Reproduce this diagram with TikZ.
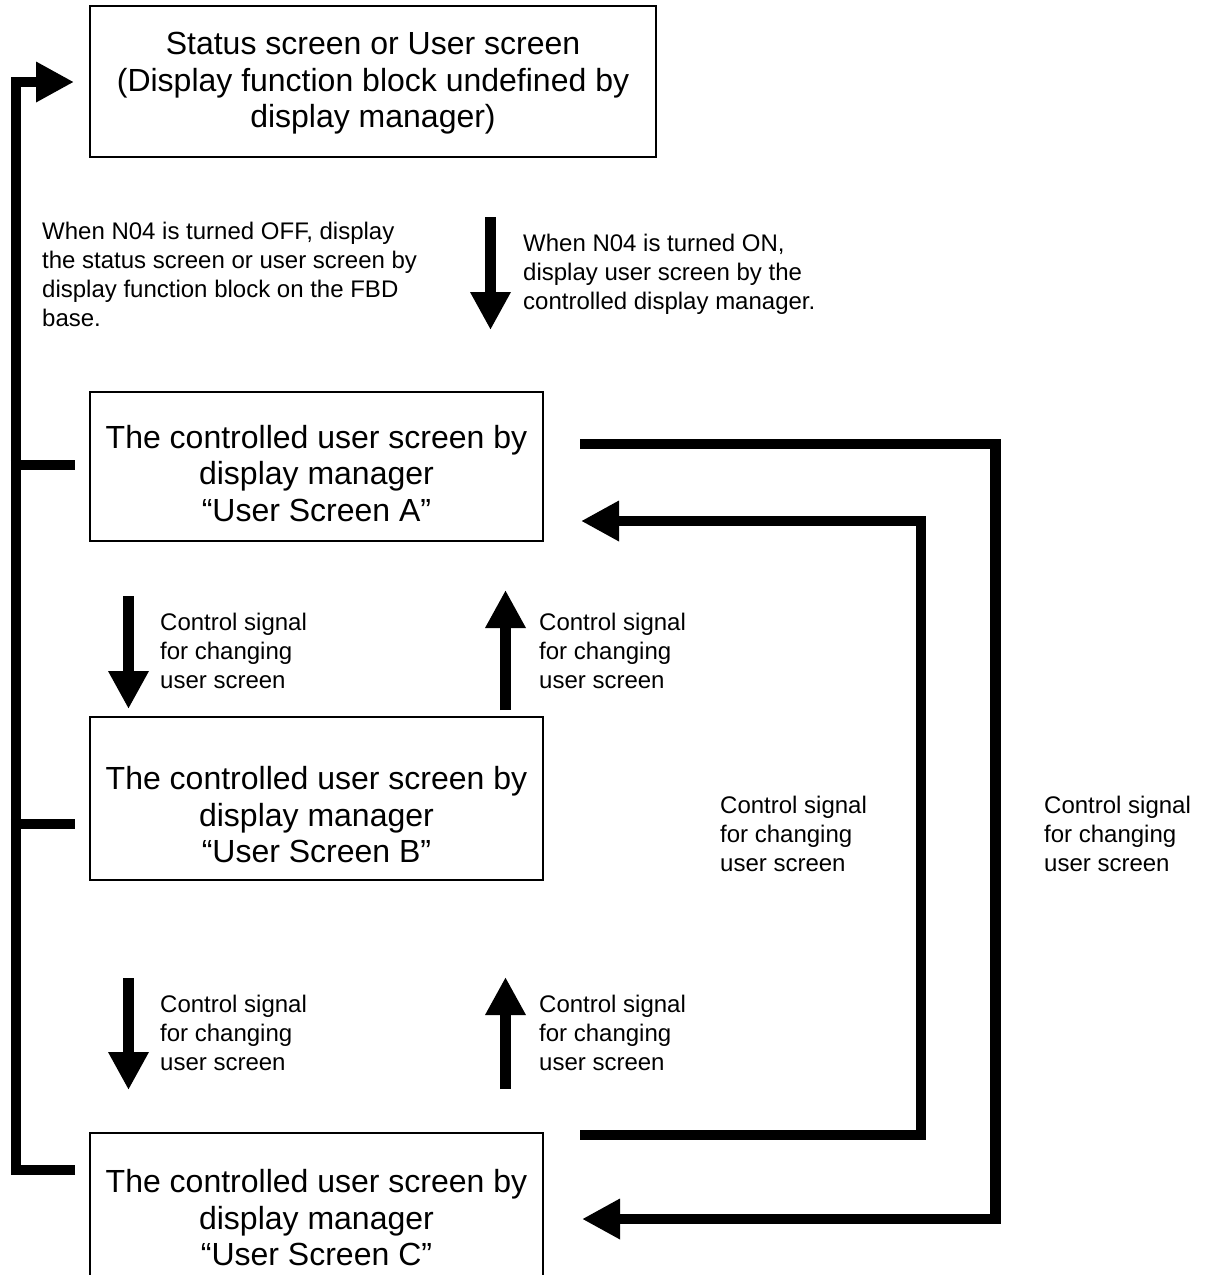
\documentclass[tikz,border=0pt]{standalone}
\usepackage{fontspec}
\setmainfont{Liberation Sans}
\usetikzlibrary{arrows.meta}
\begin{document}
\begin{tikzpicture}[x=1pt,y=-1pt,
  box/.style={draw,line width=1.6pt,inner sep=0pt},
  boxtxt/.style={inner sep=0pt,align=center,
    font=\fontsize{32}{36.5}\selectfont},
  lbl/.style={inner sep=0pt,anchor=north west,align=left,
    font=\fontsize{24}{29}\selectfont},
  bar/.style={line width=10.5pt,line join=miter},
  bigarrow/.style={line width=10.5pt,line join=miter,
    -{Triangle[width=38pt,length=38pt]}}
]
\useasboundingbox (0,0) rectangle (1207,1275);

% boxes
\node[box,minimum width=566pt,minimum height=151pt] (T) at (373,81.5) {};
\node[boxtxt] (Ttxt) at (373,83.5)
  {Status screen or User screen\\(Display function block undefined by\\display manager)};
\node[box,minimum width=453pt,minimum height=149pt] (A) at (316.5,466.5) {};
\node[boxtxt] (Atxt) at (316.5,473.5)
  {The controlled user screen by\\display manager\\“User Screen A”};
\node[box,minimum width=453pt,minimum height=163pt] (B) at (316.5,798.5) {};
\node[boxtxt] (Btxt) at (316.5,815)
  {The controlled user screen by\\display manager\\“User Screen B”};
\node[box,minimum width=453pt,minimum height=170pt] (C) at (316.5,1218) {};
\node[boxtxt] (Ctxt) at (316.5,1218)
  {The controlled user screen by\\display manager\\“User Screen C”};

% labels
\node[lbl] (offtxt) at (42,222) {When N04 is turned OFF, display\\the status screen or user screen by\\display function block on the FBD\\base.};
\node[lbl] (ontxt) at (523,234) {When N04 is turned ON,\\display user screen by the\\controlled display manager.};
\node[lbl] (l1) at (160,613) {Control signal\\for changing\\user screen};
\node[lbl] (l2) at (539,613) {Control signal\\for changing\\user screen};
\node[lbl] (l3) at (160,995) {Control signal\\for changing\\user screen};
\node[lbl] (l4) at (539,995) {Control signal\\for changing\\user screen};
\node[lbl] (l5) at (720,796) {Control signal\\for changing\\user screen};
\node[lbl] (l6) at (1044,796) {Control signal\\for changing\\user screen};

% coordinates of the connectors
\coordinate (onS) at (490.5,217);
\coordinate (onE) at (490.5,330);
\coordinate (d1S) at (128.5,596);
\coordinate (d1E) at (128.5,709);
\coordinate (u1S) at (505.5,710);
\coordinate (u1E) at (505.5,590);
\coordinate (d2S) at (128.5,978);
\coordinate (d2E) at (128.5,1090);
\coordinate (u2S) at (505.5,1089);
\coordinate (u2E) at (505.5,977);

\coordinate (stA) at (75,465);
\coordinate (stB) at (75,824);
\coordinate (stC) at (75,1170);
\coordinate (tipT) at (74,82);
\coordinate (stAo) at (10.75,465);
\coordinate (stBo) at (10.75,824);

\coordinate (oS) at (580,444);
\coordinate (oTip) at (582,1219);
\coordinate (iS) at (580,1135);
\coordinate (iTip) at (581,521);

% vertical arrows
\draw[bigarrow] (onS) -- (onE);
\draw[bigarrow] (d1S) -- (d1E);
\draw[bigarrow] (u1S) -- (u1E);
\draw[bigarrow] (d2S) -- (d2E);
\draw[bigarrow] (u2S) -- (u2E);

% left return line
\draw[bigarrow] (stC) -| (16,82) -- (tipT);
\draw[bar] (stAo) -- (stA);
\draw[bar] (stBo) -- (stB);

% right loops
\draw[bigarrow] (oS) -| (995.5,1219) -- (oTip);
\draw[bigarrow] (iS) -| (921,521) -- (iTip);
\end{tikzpicture}
\end{document}
